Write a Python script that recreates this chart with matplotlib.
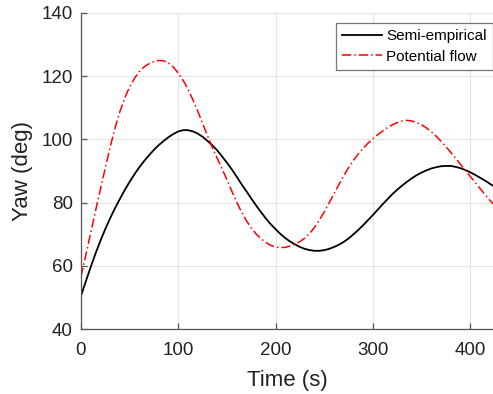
import numpy as np
import matplotlib.pyplot as plt

plt.rcParams['font.family'] = ['Liberation Sans', 'DejaVu Sans']

# Time (s), every 5 s
t = list(range(0, 430, 5))

# Semi-empirical yaw (deg)
yaw_semi = [50.6, 55.2, 59.7, 64.0, 68.0, 71.7, 75.1, 78.3, 81.2, 84.0,
            86.6, 89.0, 91.2, 93.2, 95.0, 96.7, 98.2, 99.5, 100.7, 101.7,
            102.5, 102.9, 102.9, 102.5, 101.8, 100.8, 99.5, 98.1, 96.5, 94.6,
            92.6, 90.5, 88.2, 85.8, 83.6, 81.3, 79.1, 77.0, 75.0, 73.2,
            71.6, 70.1, 68.8, 67.7, 66.8, 66.0, 65.4, 65.0, 64.8, 64.8,
            65.0, 65.4, 66.0, 66.7, 67.6, 68.7, 70.0, 71.4, 72.9, 74.5,
            76.1, 77.8, 79.5, 81.1, 82.7, 84.1, 85.4, 86.6, 87.7, 88.7,
            89.5, 90.2, 90.8, 91.2, 91.5, 91.6, 91.6, 91.3, 90.9, 90.3,
            89.6, 88.8, 87.9, 87.0, 86.0, 85.0]

# Potential flow yaw (deg)
yaw_pot = [56.6, 63.5, 70.5, 77.5, 84.3, 91.0, 97.6, 103.6, 108.8, 113.1,
           116.6, 119.3, 121.4, 122.9, 123.9, 124.6, 124.9, 124.8, 124.1, 122.8,
           120.9, 118.6, 115.8, 112.5, 108.9, 105.0, 101.1, 97.4, 94.0, 90.7,
           87.2, 83.6, 80.2, 77.0, 74.3, 72.0, 70.1, 68.6, 67.4, 66.5,
           66.0, 65.8, 65.9, 66.3, 66.9, 67.7, 68.8, 70.3, 72.2, 74.5,
           77.1, 79.9, 82.8, 85.7, 88.5, 91.1, 93.4, 95.4, 97.2, 98.8,
           100.2, 101.5, 102.6, 103.7, 104.6, 105.3, 105.8, 106.0, 105.8, 105.3,
           104.6, 103.6, 102.4, 101.0, 99.4, 97.7, 95.9, 94.0, 92.1, 90.2,
           88.3, 86.4, 84.5, 82.6, 80.8, 79.2]

xticks = [0, 100, 200, 300, 400]
yticks = [40, 60, 80, 100, 120, 140]

fig = plt.figure(figsize=(4.93, 3.94), dpi=100)
ax = fig.add_axes([0.1643, 0.1642, 0.8357, 0.8036])

ax.plot(t, yaw_semi, color='black', lw=1.3, label='Semi-empirical')
ax.plot(t, yaw_pot, color='red', lw=1.1, ls=(0, (6, 2, 1, 2)),
        label='Potential flow')

ax.set_xlim(0, 423.4)
ax.set_ylim(40, 140)
ax.set_xticks(xticks)
ax.set_yticks(yticks)
ax.grid(True, color='#e4e4e4', lw=0.8)
ax.set_axisbelow(True)

for side in ['top', 'right']:
    ax.spines[side].set_visible(False)
for side in ['left', 'bottom']:
    ax.spines[side].set_color('#555555')
    ax.spines[side].set_linewidth(0.9)

ax.tick_params(direction='in', length=4, width=0.9, color='#555555',
               labelsize=13.5, labelcolor='#222222')
ax.tick_params(axis='x', pad=9)
ax.tick_params(axis='y', pad=6)

ax.set_xlabel('Time (s)', fontsize=16, color='#222222', labelpad=8)
ax.set_ylabel('Yaw (deg)', fontsize=16, color='#222222', labelpad=6)

leg = ax.legend(loc='upper right', bbox_to_anchor=(1.0, 0.968), fontsize=11,
                frameon=True, fancybox=False, handlelength=2.6,
                borderpad=0.4, labelspacing=0.45, handletextpad=0.3,
                borderaxespad=0.0)
leg.get_frame().set_edgecolor('#555555')
leg.get_frame().set_linewidth(0.9)

fig.savefig('out.png', dpi=100)
